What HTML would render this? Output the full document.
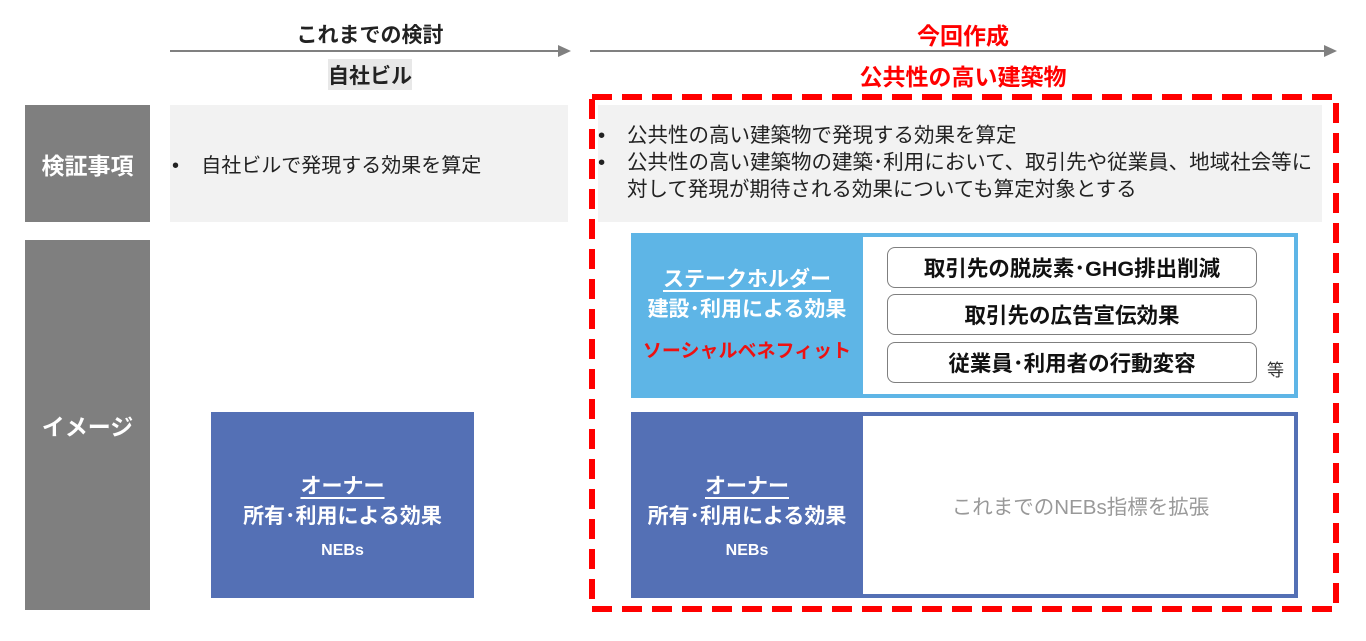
<!DOCTYPE html>
<html><head><meta charset="utf-8"><style>
body{margin:0;width:1366px;height:641px;background:#fff;position:relative;overflow:hidden;font-family:"Liberation Sans","Noto Sans CJK JP",sans-serif;}
div{position:absolute;box-sizing:border-box;}
.c{display:flex;align-items:center;justify-content:center;text-align:center;}
.lab{background:#7f7f7f;color:#fff;font-weight:bold;font-size:23px;}
.pill{left:887px;width:370px;height:41px;border:1.5px solid #7f7f7f;border-radius:8px;font-weight:bold;font-size:21.5px;color:#111;background:#fff;}
.u{text-decoration:underline;text-underline-offset:4px;}
</style></head><body>
<svg width="1366" height="641" style="position:absolute;left:0;top:0">
<line x1="170" y1="51" x2="560" y2="51" stroke="#808080" stroke-width="2"/>
<polygon points="558,45 571,51 558,57" fill="#808080"/>
<line x1="590" y1="51" x2="1326" y2="51" stroke="#808080" stroke-width="2"/>
<polygon points="1324,45 1337,51 1324,57" fill="#808080"/>
<rect x="592" y="97" width="744" height="512" fill="none" stroke="#ff0000" stroke-width="6" stroke-dasharray="20,10"/>
</svg>
<div class="c" style="left:220px;top:19px;width:300px;height:30px;font-size:21px;font-weight:bold;color:#222">これまでの検討</div>
<div class="c" style="left:328px;top:59px;width:84px;height:31px;background:#e8e8e8;font-size:21px;font-weight:bold;color:#222">自社ビル</div>
<div class="c" style="left:813px;top:19px;width:300px;height:30px;font-size:23px;font-weight:bold;color:#ff0000">今回作成</div>
<div class="c" style="left:763px;top:60px;width:400px;height:30px;font-size:23px;font-weight:bold;color:#ff0000">公共性の高い建築物</div>

<div class="lab c" style="left:25px;top:105px;width:125px;height:117px">検証事項</div>
<div class="lab c" style="left:25px;top:240px;width:125px;height:370px">イメージ</div>

<div style="left:170px;top:105px;width:398px;height:117px;background:#f2f2f2;font-size:20px;color:#222;padding:44px 0 0 2px">•&nbsp;&nbsp;&nbsp;&nbsp;自社ビルで発現する効果を算定</div>
<div style="left:598px;top:105px;width:724px;height:117px;background:#f2f2f2;"></div>
<div style="left:598px;top:122px;font-size:20.5px;color:#222;line-height:27px;white-space:nowrap">•</div>
<div style="left:598px;top:149px;font-size:20.5px;color:#222;line-height:27px;white-space:nowrap">•</div>
<div style="left:627px;top:122px;font-size:20.5px;color:#222;line-height:27px;white-space:nowrap">公共性の高い建築物で発現する効果を算定<br>公共性の高い建築物の建築･利用において、取引先や従業員、地域社会等に<br>対して発現が期待される効果についても算定対象とする</div>

<div class="c" style="left:211px;top:412px;width:263px;height:186px;background:#5470b5;color:#fff;flex-direction:column;font-size:21px;font-weight:bold;padding-top:20px">
<span class="u">オーナー</span><span>所有･利用による効果</span><span style="font-size:16px;margin-top:12px">NEBs</span></div>

<div style="left:631px;top:233px;width:667px;height:165px;border:4px solid #5eb5e6;background:#fff"></div>
<div class="c" style="left:631px;top:233px;width:232px;height:165px;background:#5eb5e6;color:#fff;flex-direction:column;font-size:21px;font-weight:bold;line-height:30px">
<span class="u">ステークホルダー</span><span>建設･利用による効果</span><span style="color:#ee1111;margin-top:12px;font-size:19px">ソーシャルベネフィット</span></div>
<div class="pill c" style="top:247px">取引先の脱炭素･GHG排出削減</div>
<div class="pill c" style="top:294px">取引先の広告宣伝効果</div>
<div class="pill c" style="top:342px">従業員･利用者の行動変容</div>
<div style="left:1267px;top:356px;font-size:17px;color:#333">等</div>

<div style="left:631px;top:412px;width:667px;height:186px;border:4px solid #5470b5;background:#fff"></div>
<div class="c" style="left:631px;top:412px;width:232px;height:186px;background:#5470b5;color:#fff;flex-direction:column;font-size:21px;font-weight:bold;padding-top:20px">
<span class="u">オーナー</span><span>所有･利用による効果</span><span style="font-size:16px;margin-top:12px">NEBs</span></div>
<div class="c" style="left:863px;top:412px;width:435px;height:186px;font-size:20.5px;color:#999">これまでのNEBs指標を拡張</div>
</body></html>
